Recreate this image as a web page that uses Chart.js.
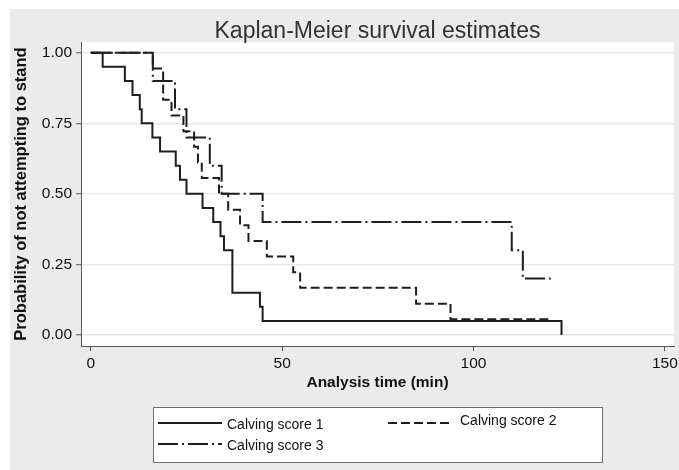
<!DOCTYPE html>
<html><head><meta charset="utf-8">
<script src="https://cdn.jsdelivr.net/npm/chart.js@4.4.1/dist/chart.umd.min.js"></script>
<style>html,body{margin:0;padding:0;background:#fff}#wrap{width:679px;height:470px}</style>
</head><body><div id="wrap"><canvas id="c" width="679" height="470"></canvas></div>
<script>
const chartTitle = 'Kaplan-Meier survival estimates';
const xTitle = 'Analysis time (min)';
const yTitle = 'Probability of not attempting to stand';
const seriesLabels = ['Calving score 1', 'Calving score 2', 'Calving score 3'];
const xTicks = [0, 50, 100, 150];
const yTicks = [0, 0.25, 0.5, 0.75, 1];

const time1 = [0, 3.1, 8.9, 10.9, 12.8, 13.3, 16.1, 18.1, 22.2, 23.3, 25, 29.2, 32, 33.9, 34.8, 37, 44.2, 44.9, 123];
const surv1 = [1, 0.95, 0.90, 0.85, 0.80, 0.75, 0.70, 0.65, 0.60, 0.55, 0.50, 0.45, 0.40, 0.35, 0.30, 0.15, 0.10, 0.05, 0];

const time2 = [0, 16.2, 18.9, 21.1, 24.2, 27, 28, 29, 33.5, 35.9, 39, 41.2, 46, 52.9, 54.7, 85, 94, 120];
const surv2 = [1, 0.944, 0.833, 0.778, 0.722, 0.667, 0.611, 0.556, 0.5, 0.444, 0.389, 0.333, 0.278, 0.222, 0.167, 0.111, 0.056, 0.056];

const time3 = [0, 16.2, 22, 25, 31.1, 34.2, 44.9, 110, 112.9, 120.2];
const surv3 = [1, 0.9, 0.8, 0.7, 0.6, 0.5, 0.4, 0.3, 0.2, 0.2];

const FAM = '"Liberation Sans", Arial, Helvetica, sans-serif';
const pts = (t, s) => t.map((v, i) => ({x: v, y: s[i]}));

const bgPlugin = {
  id: 'bg',
  beforeDraw(chart) {
    const {ctx, chartArea: a} = chart;
    ctx.save();
    ctx.fillStyle = '#ffffff'; ctx.fillRect(0, 0, chart.width, chart.height);
    ctx.fillStyle = '#ebebeb'; ctx.fillRect(10, 9, chart.width - 10, chart.height - 9);
    ctx.fillStyle = '#ffffff'; ctx.fillRect(a.left, a.top, a.right - a.left, a.bottom - a.top);
    ctx.restore();
  }
};

const legendPlugin = {
  id: 'kmLegend',
  afterDraw(chart) {
    const ctx = chart.ctx;
    ctx.save();
    ctx.fillStyle = '#ffffff'; ctx.fillRect(153, 407, 449, 55);
    ctx.strokeStyle = '#707070'; ctx.lineWidth = 1; ctx.setLineDash([]);
    ctx.strokeRect(153.5, 407.5, 449, 55);
    const slots = [
      {x: 158, y: 423, tx: 227, ty: 425},
      {x: 388, y: 423, tx: 460, ty: 421},
      {x: 158, y: 444, tx: 227, ty: 446}
    ];
    chart.data.datasets.forEach((ds, i) => {
      const s = slots[i];
      ctx.strokeStyle = ds.borderColor; ctx.lineWidth = ds.borderWidth;
      ctx.lineCap = 'butt';
      ctx.setLineDash(ds.borderDash || []);
      ctx.beginPath(); ctx.moveTo(s.x, s.y); ctx.lineTo(s.x + 64, s.y); ctx.stroke();
      ctx.setLineDash([]);
      ctx.fillStyle = '#111111';
      ctx.font = '14px ' + FAM;
      ctx.textBaseline = 'middle'; ctx.textAlign = 'left';
      ctx.fillText(ds.label, s.tx, s.ty);
    });
    ctx.restore();
  }
};

const common = {borderColor: '#1e1e1e', borderWidth: 2, pointRadius: 0, stepped: 'before', fill: false, borderCapStyle: 'butt', borderJoinStyle: 'miter', tension: 0};

new Chart(document.getElementById('c'), {
  type: 'line',
  data: {
    datasets: [
      Object.assign({label: seriesLabels[0], data: pts(time1, surv1), borderDash: []}, common),
      Object.assign({label: seriesLabels[1], data: pts(time2, surv2), borderDash: [9, 4]}, common),
      Object.assign({label: seriesLabels[2], data: pts(time3, surv3), borderDash: [20, 4, 2, 4]}, common)
    ]
  },
  options: {
    responsive: false,
    animation: false,
    devicePixelRatio: 1,
    layout: {padding: {left: 10, top: 9, right: 5, bottom: 78}},
    plugins: {
      legend: {display: false},
      tooltip: {enabled: false},
      title: {
        display: true, text: chartTitle, fullSize: false, color: '#333333',
        font: {size: 23, weight: 'normal', family: FAM, lineHeight: 1},
        padding: {top: 11.5, bottom: -1.5}
      }
    },
    scales: {
      x: {
        type: 'linear', min: -2.56, max: 152.4,
        afterBuildTicks: s => { s.ticks = xTicks.map(v => ({value: v})); },
        afterFit: s => { s.height = 46; s.paddingLeft = 0; s.paddingRight = 0; },
        grid: {drawOnChartArea: false, drawTicks: true, tickLength: 5, tickColor: '#555555', tickWidth: 1},
        border: {display: true, color: '#555555', width: 1},
        ticks: {font: {size: 15.5, family: FAM}, color: '#111111', padding: 3, maxRotation: 0, autoSkip: false, callback: v => String(v)},
        title: {display: true, text: xTitle, color: '#111111', font: {size: 15.5, weight: 'bold', family: FAM}, padding: {top: 0, bottom: 0}}
      },
      y: {
        type: 'linear', min: -0.039, max: 1.038,
        afterBuildTicks: s => { s.ticks = yTicks.map(v => ({value: v})); },
        afterFit: s => { s.width = 71; s.paddingTop = 0; s.paddingBottom = 0; },
        grid: {color: '#e8e8e8', lineWidth: 1.5, drawTicks: true, tickLength: 5, tickColor: '#555555', tickWidth: 1},
        border: {display: true, color: '#555555', width: 1},
        ticks: {font: {size: 15.5, family: FAM}, color: '#111111', padding: 4, autoSkip: false, callback: v => Number(v).toFixed(2)},
        title: {display: true, text: yTitle, color: '#111111', font: {size: 16.5, weight: 'bold', family: FAM}, padding: {top: 1.5, bottom: 0}}
      }
    }
  },
  plugins: [bgPlugin, legendPlugin]
});
</script>
</body></html>
